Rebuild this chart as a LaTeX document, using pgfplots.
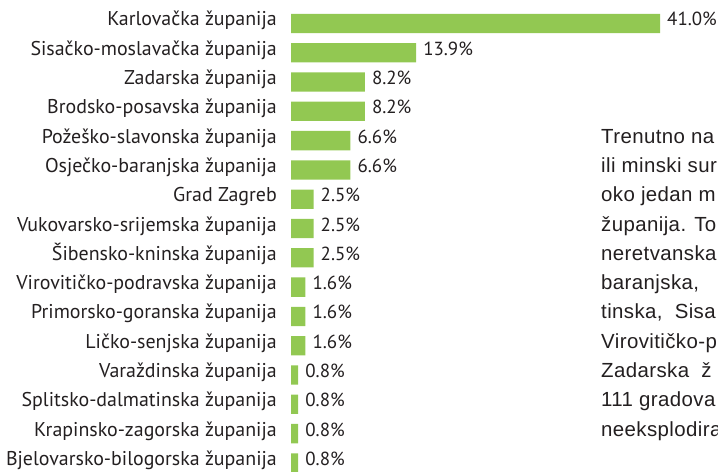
\documentclass[border=0pt]{standalone}
\usepackage{pgfplots}
\pgfplotsset{compat=1.18}
\usepackage{fontspec}
\setmainfont{PT Sans}
\newfontfamily\parafont[LetterSpace=2]{Liberation Sans}
\definecolor{bargreen}{RGB}{146,200,82}
\definecolor{txt}{RGB}{35,31,32}
\newcommand{\lab}{\fontsize{20}{20}\selectfont}
\newcommand{\vlab}{\fontsize{19}{19}\selectfont}
\begin{document}
\begin{tikzpicture}
\path[use as bounding box] (0,0) rectangle (718bp,472bp);
\begin{axis}[
  at={(291bp,472bp)}, anchor=north west,
  x=9bp, y=29.3bp,
  y dir=reverse,
  xmin=0, xmax=47.44, ymin=-0.8, ymax=15.31,
  axis line style={draw=none},
  major tick length=0pt,
  xtick=\empty,
  ytick={0,...,15},
  yticklabels={Karlovačka županija,Sisačko-moslavačka županija,Zadarska županija,Brodsko-posavska županija,Požeško-slavonska županija,Osječko-baranjska županija,Grad Zagreb,Vukovarsko-srijemska županija,Šibensko-kninska županija,Virovitičko-podravska županija,Primorsko-goranska županija,Ličko-senjska županija,Varaždinska županija,Splitsko-dalmatinska županija,Krapinsko-zagorska županija,Bjelovarsko-bilogorska županija},
  yticklabel style={font=\lab, color=txt, anchor=mid east, inner sep=0pt, xshift=-14bp},
  xbar, bar width=19.3bp, bar shift=0pt,
  point meta=x,
  /pgf/number format/assume math mode=true,
  nodes near coords={\pgfmathprintnumber[fixed,fixed zerofill,precision=1]{\pgfplotspointmeta}\%},
  every node near coord/.append style={font=\vlab, color=txt, anchor=mid west, inner sep=0pt, xshift=7bp},
  clip=false,
]
\addplot[fill=bargreen, draw=none] coordinates {
(41.0,0) (13.9,1) (8.2,2) (8.2,3) (6.6,4) (6.6,5) (2.5,6) (2.5,7)
(2.5,8) (1.6,9) (1.6,10) (1.6,11) (0.8,12) (0.8,13) (0.8,14) (0.8,15)};
\end{axis}
\begin{scope}[every node/.style={anchor=mid west, inner sep=0pt, font=\parafont\fontsize{20.5}{20.5}\selectfont, text=txt}]
\node at (601bp,{(472-23.5-29.3*4)*1bp}) {Trenutno na};
\node at (601bp,{(472-23.5-29.3*5)*1bp}) {ili minski sur};
\node at (601bp,{(472-23.5-29.3*6)*1bp}) {oko jedan m};
\node at (601bp,{(472-23.5-29.3*7)*1bp}) {županija. To};
\node at (601bp,{(472-23.5-29.3*8)*1bp}) {neretvanska};
\node at (601bp,{(472-23.5-29.3*9)*1bp}) {baranjska,};
\node at (601bp,{(472-23.5-29.3*10)*1bp}) {tinska,\hspace{6bp} Sisa};
\node at (601bp,{(472-23.5-29.3*11)*1bp}) {Virovitičko-p};
\node at (601bp,{(472-23.5-29.3*12)*1bp}) {Zadarska\hspace{6bp} ž};
\node at (601bp,{(472-23.5-29.3*13)*1bp}) {111 gradova};
\node at (601bp,{(472-23.5-29.3*14)*1bp}) {neeksplodira};
\end{scope}
\end{tikzpicture}
\end{document}
